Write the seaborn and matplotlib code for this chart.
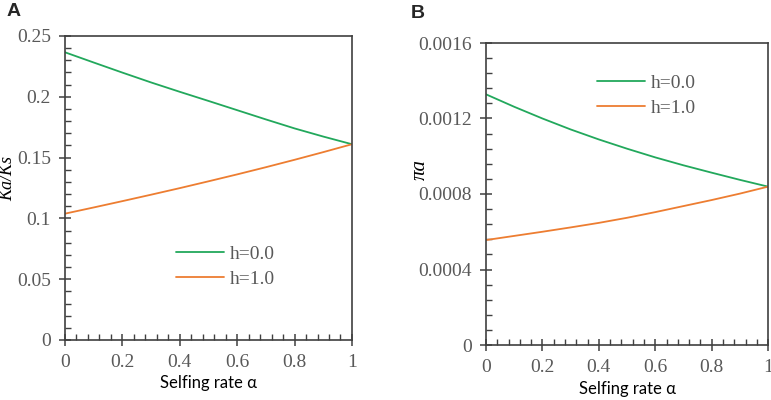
import numpy as np
import pandas as pd
import matplotlib
matplotlib.use("Agg")
import matplotlib.pyplot as plt
from matplotlib.ticker import MultipleLocator, FuncFormatter
import seaborn as sns

# selfing rate grid
alpha = [0.0, 0.1, 0.2, 0.3, 0.4, 0.5, 0.6, 0.7, 0.8, 0.9, 1.0]

# panel A: Ka/Ks
kaks_h0 = [0.2366, 0.2282, 0.2199, 0.2118, 0.2041, 0.1966, 0.1890, 0.1814, 0.1740, 0.1673, 0.1610]
kaks_h1 = [0.1039, 0.1090, 0.1142, 0.1195, 0.1249, 0.1305, 0.1362, 0.1421, 0.1482, 0.1545, 0.1610]

# panel B: pi_a
pia_h0 = [0.001328, 0.001262, 0.001200, 0.001142, 0.001089, 0.001040,
          0.000994, 0.000952, 0.000913, 0.000875, 0.000839]
pia_h1 = [0.000556, 0.000578, 0.000600, 0.000623, 0.000647, 0.000674,
          0.000704, 0.000736, 0.000768, 0.000802, 0.000839]

series_labels = ["h=0.0", "h=1.0"]
palette = {"h=0.0": "#22A85C", "h=1.0": "#ED7D31"}

GRAY  = "#595959"
SPINE = "#404040"
SERIF = "Liberation Serif"


def long_df(y0, y1):
    return pd.DataFrame({
        "alpha": alpha * 2,
        "value": y0 + y1,
        "h":     [series_labels[0]] * len(alpha) + [series_labels[1]] * len(alpha),
    })


sns.set_theme(style="white")
plt.rcParams["font.family"] = [SERIF, "DejaVu Serif"]

fig = plt.figure(figsize=(7.71, 4.0), dpi=100)
axA = fig.add_axes([0.0843, 0.15, 0.3722, 0.76])
axB = fig.add_axes([0.6304, 0.1375, 0.3658, 0.755])

fmt = FuncFormatter(lambda v, _: "%g" % round(v, 6))


def style_axis(ax, ymax, ymajor, yminor, ylabel, ysize, leg_anchor, xpad):
    ax.set_xlim(0, 1)
    ax.set_ylim(0, ymax)
    ax.xaxis.set_major_locator(MultipleLocator(0.2))
    ax.xaxis.set_minor_locator(MultipleLocator(0.04))
    ax.yaxis.set_major_locator(MultipleLocator(ymajor))
    ax.yaxis.set_minor_locator(MultipleLocator(yminor))
    ax.xaxis.set_major_formatter(fmt)
    ax.yaxis.set_major_formatter(fmt)
    ax.tick_params(which="major", direction="inout", length=8, width=1.1,
                   color=SPINE, labelsize=14, labelcolor=GRAY, pad=6,
                   bottom=True, left=True, top=False, right=False)
    ax.tick_params(which="minor", direction="in", length=4, width=1.0,
                   color=SPINE, bottom=True, left=True, top=False, right=False)
    for s in ax.spines.values():
        s.set_visible(True)
        s.set_color(SPINE)
        s.set_linewidth(1.2)
    ax.set_xlabel("Selfing rate \u03b1", family=["Lato", "DejaVu Sans"],
                  fontsize=12, color="black", labelpad=xpad)
    ax.set_ylabel(ylabel, family=[SERIF], style="italic", fontsize=ysize,
                  color="black")
    ax.legend(loc="upper left", bbox_to_anchor=leg_anchor, frameon=False,
              fontsize=14, handlelength=2.5, handletextpad=0.3,
              labelspacing=0.4, labelcolor=GRAY)


sns.lineplot(data=long_df(kaks_h0, kaks_h1), x="alpha", y="value", hue="h",
             palette=palette, linewidth=1.3, ax=axA)
style_axis(axA, 0.25, 0.05, 0.01, "Ka/Ks", 13, (0.325, 0.37), 3)
axA.yaxis.set_label_coords(-0.17, 0.53)

sns.lineplot(data=long_df(pia_h0, pia_h1), x="alpha", y="value", hue="h",
             palette=palette, linewidth=1.3, ax=axB)
style_axis(axB, 0.0016, 0.0004, 0.00008, "\u03c0a", 15, (0.33, 0.955), 4)
axB.yaxis.set_label_coords(-0.2, 0.58)

fig.text(0.008, 0.97, "A", family=["Liberation Sans"], weight="bold",
         fontsize=14, va="center", ha="left")
fig.text(0.533, 0.965, "B", family=["Liberation Sans"], weight="bold",
         fontsize=14, va="center", ha="left")

fig.savefig("out.png", dpi=100)
